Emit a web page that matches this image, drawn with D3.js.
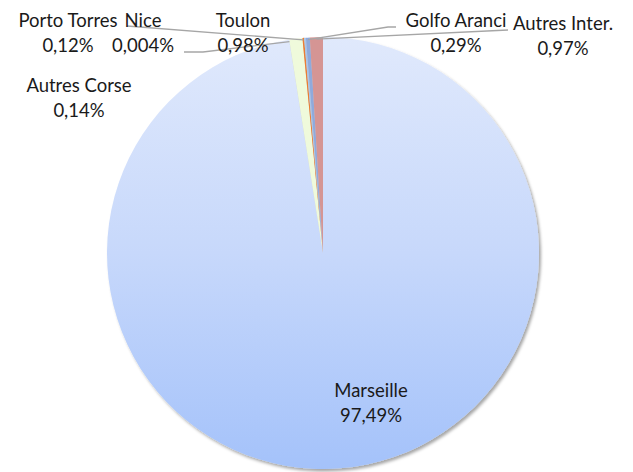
<!DOCTYPE html>
<html>
<head>
<meta charset="utf-8">
<script src="https://cdn.jsdelivr.net/npm/d3@7"></script>
<style>
  body { margin: 0; background: white; }
  text { font-family: Lato, "Open Sans", sans-serif; font-size: 18.5px; fill: #1a1a1a; }
</style>
</head>
<body>
<div id="container"></div>
<script>
let w = 633;
let h = 472;

// DATA (clockwise from 12 o'clock)
let ports = ["Marseille", "Nice", "Toulon", "Porto Torres", "Autres Corse", "Golfo Aranci", "Autres Inter."];
let shares = [97.49, 0.004, 0.98, 0.12, 0.14, 0.29, 0.97];
let shareLabels = ["97,49%", "0,004%", "0,98%", "0,12%", "0,14%", "0,29%", "0,97%"];
let colors = ["url(#marseilleGrad)", "#9dc3e6", "#effadb", "#ed7d31", "#a9c4e8", "#8faadc", "#d59594"];

// label placement (text centre, first line baseline) and leader line bends
let labelPos = {
  "Marseille":     {x: 371, y: 397, leader: null},
  "Nice":          {x: 143, y: 27, leader: [[184, 52], [203, 52]]},
  "Toulon":        {x: 243, y: 27, leader: null},
  "Porto Torres":  {x: 68,  y: 27, leader: [[127, 26]]},
  "Autres Corse":  {x: 79,  y: 92, leader: null},
  "Golfo Aranci":  {x: 456, y: 27, leader: [[396, 27], [388, 27]]},
  "Autres Inter.": {x: 563, y: 30, leader: [[508, 30]]}
};

let cx = 323;
let cy = 253;
let radius = 216;

let viz = d3.select("#container").append("svg")
    .attr("width", w)
    .attr("height", h)
    .style("display", "block");

let defs = viz.append("defs");
// gradient runs top to bottom of the pie (coords are inside the translated group)
let grad = defs.append("linearGradient")
    .attr("id", "marseilleGrad")
    .attr("gradientUnits", "userSpaceOnUse")
    .attr("x1", 0).attr("y1", -radius)
    .attr("x2", 0).attr("y2", radius);
grad.append("stop").attr("offset", "0%").attr("stop-color", "#e0e9fc");
grad.append("stop").attr("offset", "50%").attr("stop-color", "#c7d8fb");
grad.append("stop").attr("offset", "100%").attr("stop-color", "#a4c2fa");

let shadow = defs.append("filter").attr("id", "shadow")
    .attr("x", "-10%").attr("y", "-10%").attr("width", "120%").attr("height", "120%");
shadow.append("feDropShadow")
    .attr("dx", 2).attr("dy", 2.5).attr("stdDeviation", 1.5)
    .attr("flood-color", "#000").attr("flood-opacity", 0.35);

let pieMaker = d3.pie().sort(null).value(d => d);
let arcs = pieMaker(shares);
let arcMaker = d3.arc().innerRadius(0).outerRadius(radius);

let pieGroup = viz.append("g")
    .attr("transform", `translate(${cx},${cy})`)
    .attr("filter", "url(#shadow)");

pieGroup.selectAll(".slice").data(arcs).enter()
  .append("path")
    .attr("class", "slice")
    .attr("d", arcMaker)
    .attr("fill", (d, i) => colors[i]);

// LEADER LINES
let lineMaker = d3.line();
arcs.forEach((a, i) => {
  let lp = labelPos[ports[i]];
  if (!lp.leader) return;
  let mid = (a.startAngle + a.endAngle) / 2;
  let r = radius - 2;
  let start = [cx + Math.sin(mid) * r, cy - Math.cos(mid) * r];
  let pts = [start].concat(lp.leader.slice().reverse());
  viz.append("path")
    .attr("d", lineMaker(pts))
    .attr("fill", "none")
    .attr("stroke", "#a6a6a6")
    .attr("stroke-width", 1.3);
});

// LABELS
ports.forEach((p, i) => {
  let lp = labelPos[p];
  let t = viz.append("text")
    .attr("text-anchor", "middle")
    .attr("x", lp.x)
    .attr("y", lp.y);
  t.append("tspan").attr("x", lp.x).text(p);
  t.append("tspan").attr("x", lp.x).attr("dy", 25).text(shareLabels[i]);
});
</script>
</body>
</html>
